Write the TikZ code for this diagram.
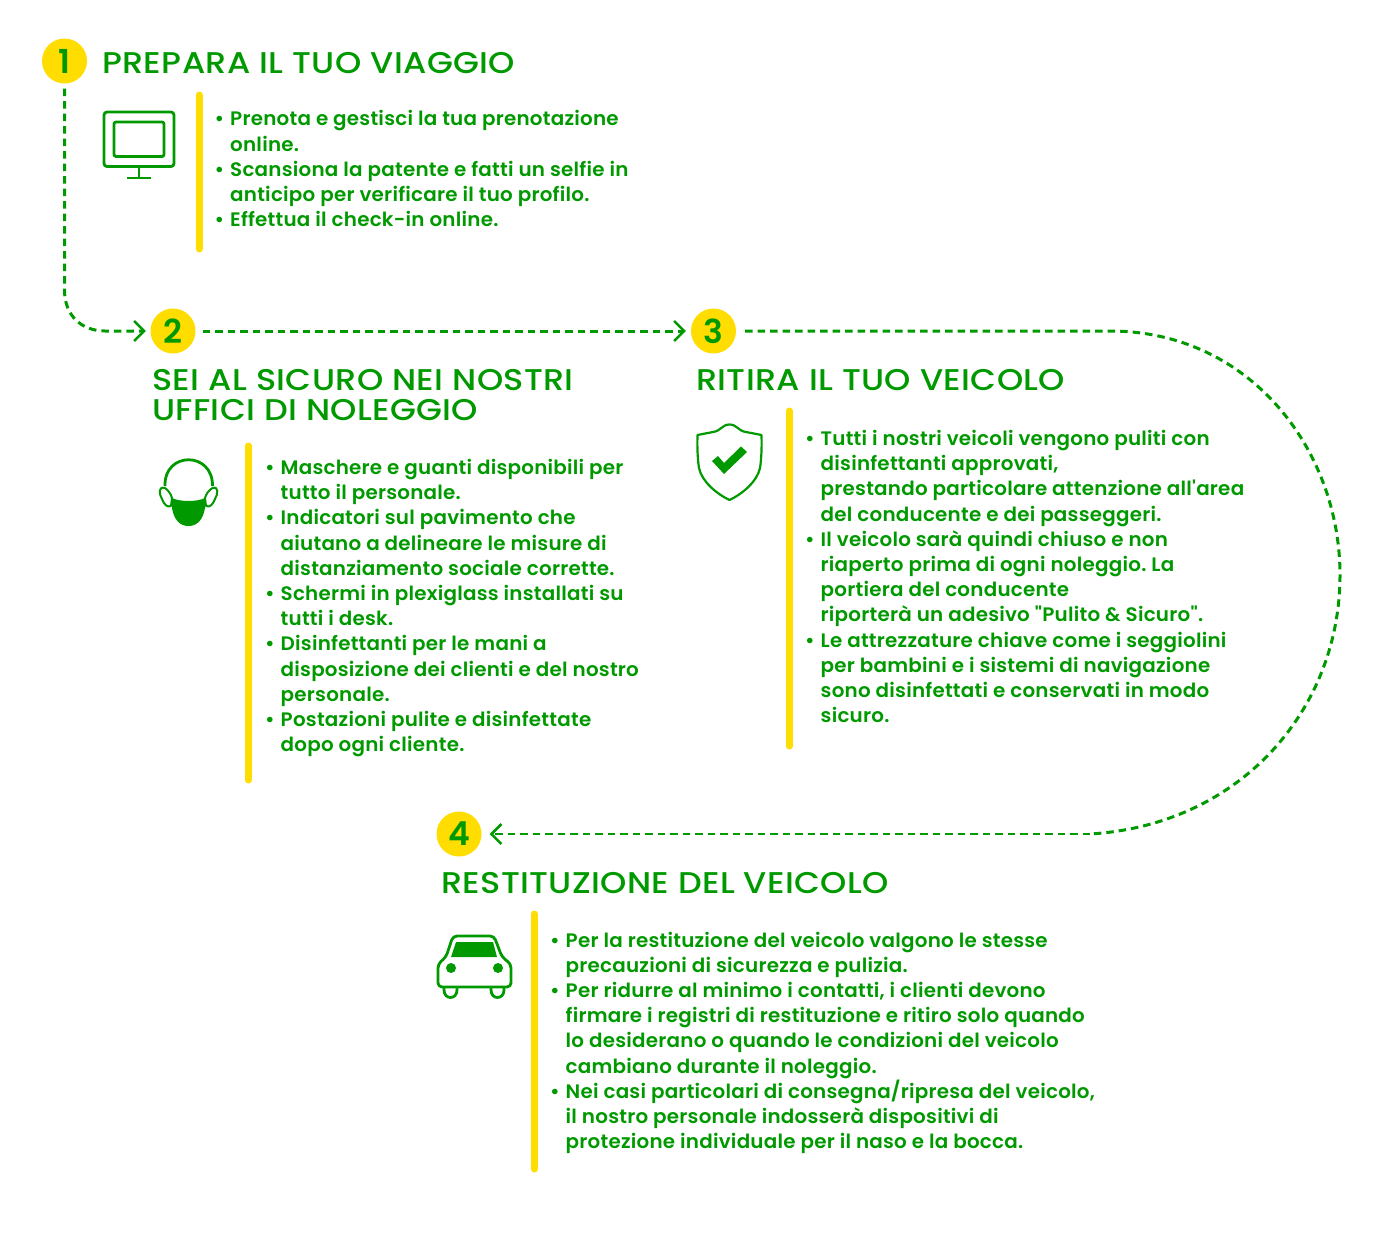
\documentclass[tikz,border=0pt]{standalone}
\usepackage{fontspec}
\setmainfont{Poppins Medium}
\newfontfamily\headf[FakeStretch=1.115,LetterSpace=1.2]{Poppins Medium}
\newfontfamily\bodyf[FakeStretch=1.02,LetterSpace=1.2]{Poppins SemiBold}
\newfontfamily\numf{Poppins SemiBold}
\usetikzlibrary{arrows.meta}
\definecolor{gr}{HTML}{009900}
\definecolor{ye}{HTML}{FFDD00}
\newcommand{\bu}{\makebox[15.5pt][l]{•}}
\newcommand{\ct}{\hspace*{15.5pt}}
\frenchspacing
\tikzset{
 x=1pt,y=-1pt,
 num/.style={circle,fill=ye,text=gr,minimum size=45pt,inner sep=0pt,font=\numf\fontsize{33}{33}\selectfont},
 head/.style={anchor=base west,text=gr,inner sep=0pt,align=left,font=\headf\fontsize{30}{30}\selectfont},
 body/.style={anchor=north west,text=gr,inner sep=0pt,align=left,font=\bodyf\fontsize{19.5}{25.2}\selectfont},
 bar/.style={draw=ye,line width=7pt,line cap=round},
 conn/.style={draw=gr,line width=3pt,dash pattern=on 7.5pt off 5pt},
 tipc/.style={-{Straight Barb[length=10pt,width=20pt,line width=2.5pt]}},
 ico/.style={draw=gr,line width=2.8pt,line join=round}
}
\begin{document}
\begin{tikzpicture}
\useasboundingbox (0,0) rectangle (1387,1237);
\node[num] (n1) at (64.5,61) {1};
\node[num] (n2) at (173,331) {2};
\node[num] (n3) at (713.5,331) {3};
\node[num] (n4) at (459,834) {4};
\coordinate (c1) at (64.5,290);
\coordinate (c2) at (105,331);
\coordinate (c3) at (1110,331);
\coordinate (c4) at (1090,834);
\draw[conn,tipc,shorten <=5pt,shorten >=4.5pt] (n1.south) -- (c1) .. controls (64.5,316) and (82,331) .. (c2) -- (n2.west);
\draw[conn,tipc,shorten <=7pt,shorten >=5pt] (n2.east) -- (n3.west);
\draw[conn,shorten <=9pt] (n3.east) -- (c3) .. controls (1250,331) and (1340,450) .. (1340,575) .. controls (1340,710) and (1240,825) .. (c4);
\draw[conn,tipc,line width=2pt,shorten >=8pt] (c4) -- (n4.east);
\node[head] (h1) at (102,73) {PREPARA IL TUO VIAGGIO};
\node[head,anchor=north west] (h2) at (152,369) {SEI AL SICURO NEI NOSTRI\\UFFICI DI NOLEGGIO};
\node[head] (h3) at (696,390) {RITIRA IL TUO VEICOLO};
\node[head] (h4) at (441,893) {RESTITUZIONE DEL VEICOLO};
\draw[bar] (199,95) -- (199,249);
\draw[bar] (248.5,446) -- (248.5,780);
\draw[bar] (789,411) -- (789,746);
\draw[bar] (534,914) -- (534,1169);
\node[body] (t1) at (214.5,110.5) {\bu Prenota e gestisci la tua prenotazione\\\ct online.\\\bu Scansiona la patente e fatti un selfie in\\\ct anticipo per verificare il tuo profilo.\\\bu Effettua il check-in online.};
\node[body] (t2) at (265,459) {\bu Maschere e guanti disponibili per\\\ct tutto il personale.\\\bu Indicatori sul pavimento che\\\ct aiutano a delineare le misure di\\\ct distanziamento sociale corrette.\\\bu Schermi in plexiglass installati su\\\ct tutti i desk.\\\bu Disinfettanti per le mani a\\\ct disposizione dei clienti e del nostro\\\ct personale.\\\bu Postazioni pulite e disinfettate\\\ct dopo ogni cliente.};
\node[body] (t3) at (805,430) {\bu Tutti i nostri veicoli vengono puliti con\\\ct disinfettanti approvati,\\\ct prestando particolare attenzione all'area\\\ct del conducente e dei passeggeri.\\\bu Il veicolo sarà quindi chiuso e non\\\ct riaperto prima di ogni noleggio. La\\\ct portiera del conducente\\\ct riporterà un adesivo "Pulito \& Sicuro".\\\bu Le attrezzature chiave come i seggiolini\\\ct per bambini e i sistemi di navigazione\\\ct sono disinfettati e conservati in modo\\\ct sicuro.};
\node[body] (t4) at (550,931.5) {\bu Per la restituzione del veicolo valgono le stesse\\\ct precauzioni di sicurezza e pulizia.\\\bu Per ridurre al minimo i contatti, i clienti devono\\\ct firmare i registri di restituzione e ritiro solo quando\\\ct lo desiderano o quando le condizioni del veicolo\\\ct cambiano durante il noleggio.\\\bu Nei casi particolari di consegna/ripresa del veicolo,\\\ct il nostro personale indosserà dispositivi di\\\ct protezione individuale per il naso e la bocca.};
% monitor
\draw[ico,rounded corners=3pt] (104,112) rectangle (174,166.5);
\draw[ico,rounded corners=2pt] (114,122) rectangle (164,156.5);
\draw[ico] (139,166.5) -- (139,178) (127,178) -- (151,178);
% mask
\draw[ico] (165,486) .. controls (164,451) and (213,451) .. (212.5,486);
\fill[gr] (172,498) .. controls (180,502) and (197,502) .. (205,498) -- (205,508) .. controls (203,520) and (197,526) .. (188.5,526) .. controls (180,526) and (174,520) .. (172,508) -- cycle;
\draw[ico,line width=2pt] (165,488) .. controls (158,486) and (159,494) .. (162,499) .. controls (164,504) and (167,508) .. (171,506) -- (172,498) .. controls (171,494) and (168,490) .. (165,488);
\draw[ico,line width=2pt] (212.5,488) .. controls (219,486) and (218,494) .. (215,499) .. controls (213,504) and (210,508) .. (206,506) -- (205,498) .. controls (206,494) and (209,490) .. (212.5,488);
% shield
\draw[ico,line width=2.2pt] (729.5,424.5) .. controls (722,424.5) and (721,431) .. (713,432) -- (697.5,435) .. controls (697,450) and (698,462) .. (699,468) .. controls (702,482) and (717,494) .. (729.5,500) .. controls (742,494) and (757,482) .. (760,468) .. controls (761,462) and (762,450) .. (761.5,435) -- (746,432) .. controls (738,431) and (737,424.5) .. (729.5,424.5) -- cycle;
\fill[gr] (712,461) -- (724,474) -- (747,452) -- (741,446.5) -- (724,463) -- (718,456) -- cycle;
% car
\draw[ico,rounded corners=4pt] (438,987) -- (438,964) -- (446,957) -- (453,936) -- (494,936) -- (502,957) -- (511,964) -- (511,987) -- cycle;
\draw[ico] (444,987) -- (444,990) .. controls (444,1000) and (457,1000) .. (457,990) -- (457,987);
\draw[ico] (491,987) -- (491,990) .. controls (491,1000) and (504,1000) .. (504,990) -- (504,987);
\fill[gr] (451,957) -- (456,942) -- (493,942) -- (497,957) -- cycle;
\fill[gr] (451,968) circle (5pt) (498,968) circle (5pt);
\end{tikzpicture}
\end{document}
